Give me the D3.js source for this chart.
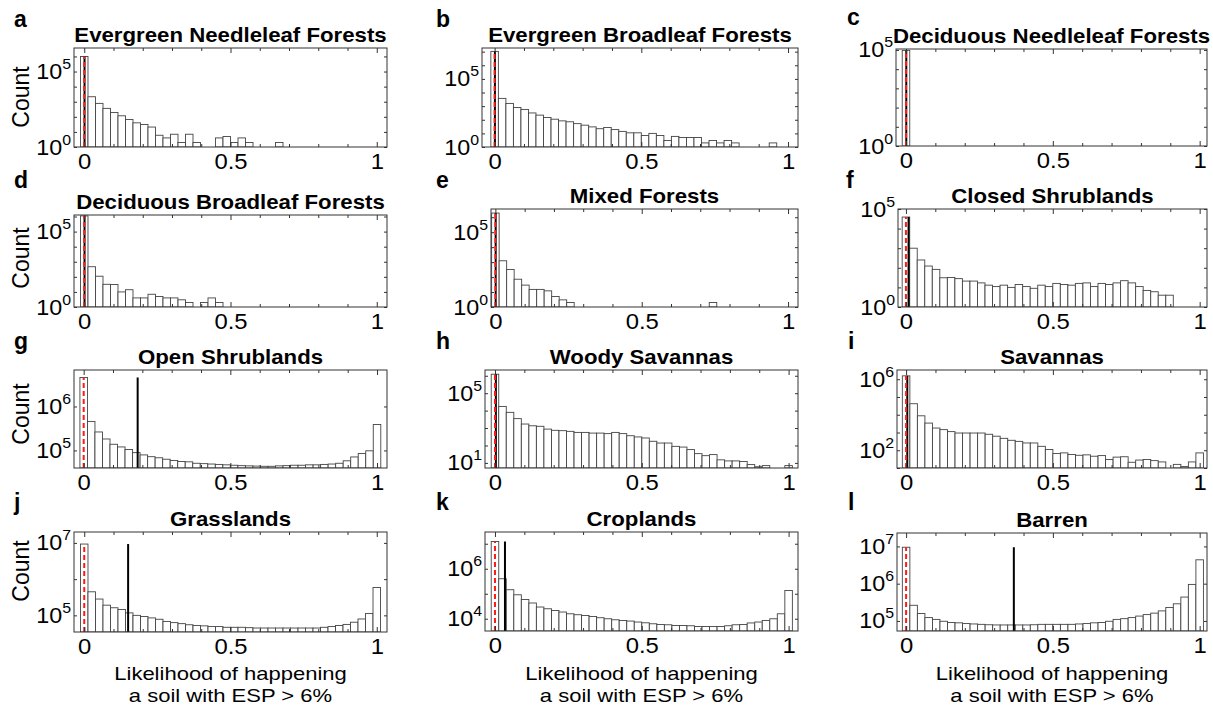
<!DOCTYPE html>
<html><head><meta charset="utf-8">
<script src="https://cdn.jsdelivr.net/npm/d3@7"></script>
<style>body{margin:0;background:#fff}</style>
</head><body>
<svg id="chart" width="1213" height="707"></svg>
<script>
// ---------------- DATA ----------------
const panelLetters = ["a","b","c","d","e","f","g","h","i","j","k","l"];
const titles = ["Evergreen Needleleaf Forests","Evergreen Broadleaf Forests","Deciduous Needleleaf Forests",
  "Deciduous Broadleaf Forests","Mixed Forests","Closed Shrublands",
  "Open Shrublands","Woody Savannas","Savannas",
  "Grasslands","Croplands","Barren"];
// 40 histogram bins, centred on k/39 (k = 0..39); counts per bin
const binCount = 40;
const countsA = [1000000,2140,776,363,195,117,66,40,31,21,6,4,7,2,7,2,0,0,4,5,2,4,2,0,0,0,2,0,0,0,0,0,0,0,0,0,0,0,0,0];
const countsB = [10500000,3715,1585,794,575,316,219,148,110,83,71,52,40,30,22,27,19,14,11,11,7,10,7,3,6,5,5,5,2,3,2,3,2,0,0,0,0,2,0,0];
const countsC = [95000,0,0,0,0,0,0,0,0,0,0,0,0,0,0,0,0,0,0,0,0,0,0,0,0,0,0,0,0,0,0,0,0,0,0,0,0,0,0,0];
const countsD = [1100000,468,110,32,31,10,14,4,4,7,5,4,4,3,2,0,2,4,2,0,0,0,0,0,0,0,0,0,0,0,0,0,0,0,0,0,0,0,0,0];
const countsE = [1900000,1230,324,72,29,15,15,12,5,3,2,0,0,0,0,0,0,0,0,0,0,0,0,0,0,0,0,0,0,2,0,0,0,0,0,0,0,0,0,0];
const countsF = [38900,1000,251,123,83,31,32,28,21,21,17,13,11,13,10,14,11,9,13,11,16,14,13,16,17,11,16,14,17,22,17,11,7,6,4,4,0,0,0,0];
const countsG = [4570000,457000,263000,182000,138000,120000,105000,89000,79000,72000,68000,63000,59000,56000,55000,51000,50000,49000,48000,47000,46000,45000,44500,44000,43500,43500,44500,45000,46000,46000,47000,47000,48000,49000,51000,58000,71000,85000,98000,389000];
const countsH = [1230000,17400,7940,3470,1700,1350,1260,870,741,708,646,562,562,513,513,479,562,479,363,309,269,174,138,138,89,81,58,34,26,30,15,13,13,12,8,6,7,0,0,7];
const countsI = [1550000,41700,8710,3390,1780,1450,1120,933,933,933,933,794,617,468,363,316,257,257,166,110,65,71,58,52,55,46,50,30,41,43,21,28,30,26,22,0,16,12,22,71];
const countsJ = [9300000,447000,282000,191000,162000,145000,117000,100000,93000,85000,78000,68000,63000,59000,55000,52500,51300,49000,49000,46800,46800,46800,45700,44700,44700,44700,44700,44700,44700,44700,44700,44700,46800,49000,52500,56200,64600,79400,112000,589000];
const countsK = [12300000,398000,145000,91000,59000,42700,29500,25100,21400,18600,15800,14500,13500,12300,11000,10000,9100,8500,8100,7400,6900,6300,5900,5750,5400,5400,5250,4900,4900,4900,4900,5250,5750,5900,6800,7400,8500,10000,15800,135000];
const countsL = [9500000,263000,158000,123000,110000,98000,91000,89000,85000,83000,81000,79000,78000,78000,78000,78000,78000,79000,81000,81000,81000,81000,81000,83000,85000,89000,91000,98000,110000,115000,123000,135000,148000,162000,186000,229000,288000,437000,955000,4370000];
const allCounts = [countsA,countsB,countsC,countsD,countsE,countsF,countsG,countsH,countsI,countsJ,countsK,countsL];
// vertical reference lines (black solid, red dashed)
const blackLineX = [0.001,0.001,0.001,0.001,0.001,0.009,0.184,0.003,0.004,0.150,0.034,0.367];
const redLineX   = [0,0,0,0,0,0,0,0,0,0,0,0];
// axis limits
const xMin = [-0.035,-0.043,-0.034,-0.035,-0.015,-0.027,-0.033,-0.034,-0.031,-0.035,-0.034,-0.031];
const xMax = [1.035,1.034,1.025,1.035,1.034,1.025,1.034,1.032,1.025,1.035,1.032,1.025];
const yMin = [1,1,1,1,1,1,39800,5.1,10,34700,3240,53700];
const yMax = [3.63e6,1.86e7,1.12e5,1.26e6,3.55e6,1e5,6.76e6,2.14e6,3.31e6,2e7,2.95e7,2.29e7];
const yTickLabels = [[1,1e5],[1,1e5],[1,1e5],[1,1e5],[1,1e5],[1,1e5],[1e5,1e6],[10,1e5],[100,1e6],[1e5,1e7],[1e4,1e6],[1e5,1e6,1e7]];
const xTickLabels = [0,0.5,1];
const xMinorTicks = [0,0.1,0.2,0.3,0.4,0.5,0.6,0.7,0.8,0.9,1];
const yLabel = "Count";
const xLabelLines = ["Likelihood of happening","a soil with ESP > 6%"];

// ---------------- LAYOUT ----------------
// axes boxes [left, top, right, bottom]
const boxes = [
  [74,48,387,147],[482,48,798,147],[896,49,1207,146],
  [74,215,387,307],[491,209,798,307],[898,209,1207,307],
  [74,370,387,468],[485,370,798,468],[897,370,1207,468],
  [74,532,387,632],[485,532,798,631],[897,533,1207,631]];
const letterPos = [[14,27],[436,27],[847,25],[14,188],[436,188],[846,188],[14,349],[436,349],[848,349],[14,510],[436,510],[848,510]];
const countLabelY = [97,258,414,571];
const FONT = "Arial, 'Liberation Sans', Helvetica, sans-serif";

const svg = d3.select("#chart");

function stretchText(g, x, y, str, size, sx, weight, anchor){
  return g.append("text")
    .attr("transform", `translate(${x},${y}) scale(${sx},1)`)
    .attr("text-anchor", anchor || "middle")
    .style("font-family", FONT).style("font-size", size + "px")
    .style("font-weight", weight || "normal").style("fill", "#000")
    .text(str);
}

allCounts.forEach((counts, i) => {
  const [L,T,R,B] = boxes[i];
  const x = d3.scaleLinear().domain([xMin[i], xMax[i]]).range([L,R]);
  const y = d3.scaleLog().domain([yMin[i], yMax[i]]).range([B,T]);
  const binW = 1/(binCount-1);
  const g = svg.append("g");

  const clipId = "clip" + i;
  svg.append("clipPath").attr("id", clipId).append("rect")
    .attr("x", L).attr("y", T).attr("width", R-L).attr("height", B-T);

  const data = counts.map((c,k) => ({k, c})).filter(d => d.c > yMin[i]);
  const plot = g.append("g").attr("clip-path", `url(#${clipId})`);
  plot.selectAll("rect.bar").data(data).join("rect").attr("class","bar")
    .attr("x", d => x(d.k*binW - binW/2))
    .attr("width", d => x(d.k*binW + binW/2) - x(d.k*binW - binW/2))
    .attr("y", d => y(d.c))
    .attr("height", d => B - y(d.c))
    .attr("fill", "#fff").attr("stroke", "#444").attr("stroke-width", 0.9);

  const top = d3.max(counts);
  plot.append("line")
    .attr("x1", x(blackLineX[i])).attr("x2", x(blackLineX[i]))
    .attr("y1", B).attr("y2", y(top))
    .attr("stroke", "#000").attr("stroke-width", 2);
  plot.append("line")
    .attr("x1", x(redLineX[i])).attr("x2", x(redLineX[i]))
    .attr("y1", B).attr("y2", y(top))
    .attr("stroke", "#ff1a1a").attr("stroke-width", 2).attr("stroke-dasharray", "5,3");

  // x axis (bottom + top ticks)
  const isMajor = v => xTickLabels.some(t => Math.abs(t - v) < 1e-9);
  const xb = g.append("g").attr("transform", `translate(0,${B})`)
    .call(d3.axisBottom(x).tickValues(xMinorTicks).tickSizeInner(-3).tickSizeOuter(0).tickPadding(6)
      .tickFormat(v => isMajor(v) ? d3.format("~g")(v) : ""));
  xb.select(".domain").remove();
  xb.selectAll(".tick line").attr("stroke", "#333").attr("y2", v => isMajor(v) ? -5 : -3);
  xb.selectAll(".tick text").style("font-family", FONT).style("font-size", "22.5px").attr("fill", "#000")
    .attr("transform", "scale(1.06,1)");
  const xt = g.append("g").attr("transform", `translate(0,${T})`)
    .call(d3.axisTop(x).tickValues(xMinorTicks).tickSizeInner(-3).tickSizeOuter(0).tickFormat(""));
  xt.select(".domain").remove();
  xt.selectAll(".tick line").attr("stroke", "#333").attr("y2", v => isMajor(v) ? 5 : 3);

  // y axis (labelled ticks, decade ticks both sides)
  const lo = Math.ceil(Math.log10(yMin[i]) - 1e-9), hi = Math.floor(Math.log10(yMax[i]) + 1e-9);
  const decades = d3.range(lo, hi + 1).map(e => Math.pow(10, e));
  const yl = g.append("g").attr("transform", `translate(${L},0)`)
    .call(d3.axisLeft(y).tickValues(decades).tickSizeInner(-3).tickSizeOuter(0).tickFormat(""));
  yl.select(".domain").remove();
  yl.selectAll(".tick line").attr("stroke", "#333");
  const yr = g.append("g").attr("transform", `translate(${R},0)`)
    .call(d3.axisRight(y).tickValues(decades).tickSizeInner(-3).tickSizeOuter(0).tickFormat(""));
  yr.select(".domain").remove();
  yr.selectAll(".tick line").attr("stroke", "#333");
  const labs = g.append("g").selectAll("g").data(yTickLabels[i]).join("g")
    .attr("transform", v => `translate(${L - 3},${y(v) + 7.5}) scale(1.06,1)`);
  const tx = labs.append("text").attr("text-anchor", "end")
    .style("font-family", FONT).style("font-size", "22px").attr("fill", "#000");
  tx.append("tspan").text("10");
  tx.append("tspan").attr("dy", -10).style("font-size", "15px").text(v => Math.round(Math.log10(v)));

  // box
  g.append("rect").attr("x", L).attr("y", T).attr("width", R-L).attr("height", B-T)
    .attr("fill", "none").attr("stroke", "#333").attr("stroke-width", 1);

  // title
  stretchText(g, (L+R)/2, T - 6.5, titles[i], 19.5, 1.14, "bold");
  // panel letter
  stretchText(g, letterPos[i][0], letterPos[i][1], panelLetters[i], 23, 1.0, "bold", "start");

  if (i % 3 === 0) {
    g.append("text").attr("transform", `translate(29,${countLabelY[i/3]}) rotate(-90)`)
      .attr("text-anchor", "middle").style("font-family", FONT).style("font-size", "23px")
      .text(yLabel);
  }
  if (i >= 9) {
    stretchText(g, (L+R)/2, 679.5, xLabelLines[0], 18.5, 1.19, "normal");
    stretchText(g, (L+R)/2, 701.5, xLabelLines[1], 18.5, 1.19, "normal");
  }
});
</script>
</body></html>
